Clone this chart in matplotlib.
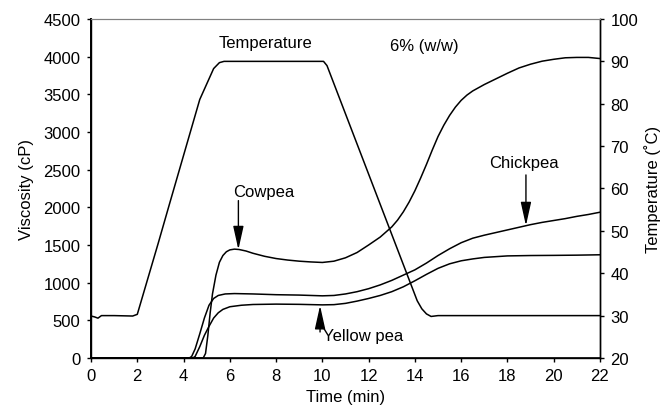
import matplotlib
matplotlib.use("Agg")
import matplotlib.pyplot as plt
import numpy as np

plt.rcParams['font.family'] = ['Liberation Sans', 'DejaVu Sans']
plt.rcParams['font.size'] = 12

# Time (min) / Temperature (deg C)
temp_t = [0, 0.15, 0.3, 0.45, 1.0, 1.8, 2.0, 2.9, 3.4, 4.7, 5.3, 5.55, 5.75,
          10.05, 10.2, 14.1, 14.3, 14.5, 14.7, 15.0, 22.0]
temp_c = [29.9, 29.7, 29.4, 30.0, 30.0, 29.9, 30.3, 47.0, 56.5, 81.0, 88.3, 89.7, 90.0,
          90.0, 89.0, 33.5, 31.6, 30.4, 29.8, 30.0, 30.0]

# Viscosity (cP)
cow_t = [0, 4.85, 4.95, 5.05, 5.15, 5.25, 5.4, 5.55, 5.7, 5.85, 6.0, 6.2, 6.4, 6.7,
         7.0, 7.5, 8.0, 8.5, 9.0, 9.5, 10.0, 10.5, 11.0, 11.5, 12.0, 12.5, 13.0, 13.25,
         13.5, 13.75, 14.0, 14.25, 14.5, 14.75, 15.0, 15.25, 15.5, 15.75, 16.0, 16.25,
         16.5, 17.0, 17.5, 18.0, 18.5, 19.0, 19.5, 20.0, 20.5, 21.0, 21.5, 22.0]
cow_v = [0, 0, 60, 300, 600, 850, 1100, 1270, 1360, 1410, 1435, 1445, 1440, 1420,
         1390, 1350, 1320, 1300, 1285, 1275, 1268, 1285, 1330, 1400, 1500, 1605, 1740, 1830,
         1940, 2070, 2220, 2390, 2570, 2760, 2940, 3090, 3220, 3330, 3420, 3490,
         3545, 3630, 3705, 3780, 3850, 3900, 3940, 3965, 3985, 3990, 3990, 3975]

chick_t = [0, 4.25, 4.35, 4.5, 4.7, 4.9, 5.1, 5.3, 5.5, 5.8, 6.2, 7, 8, 9, 10, 10.5,
           11, 11.5, 12, 12.5, 13, 13.5, 14, 14.5, 15, 15.5, 16, 16.5, 17, 17.5, 18,
           18.5, 19, 19.5, 20, 20.5, 21, 21.5, 22]
chick_v = [0, 0, 20, 120, 320, 530, 700, 790, 830, 850, 855, 850, 840, 835, 825, 830,
           850, 880, 920, 970, 1030, 1100, 1170, 1260, 1360, 1450, 1530, 1590, 1630, 1665, 1700,
           1735, 1770, 1800, 1825, 1850, 1880, 1905, 1935]

yp_t = [0, 4.4, 4.5, 4.7, 4.9, 5.1, 5.3, 5.5, 5.7, 6.0, 6.5, 7, 8, 9, 10, 10.5, 11,
        11.5, 12, 12.5, 13, 13.5, 14, 14.5, 15, 15.5, 16, 16.5, 17, 17.5, 18, 19, 20, 21, 22]
yp_v = [0, 0, 20, 150, 300, 420, 530, 600, 645, 680, 700, 710, 715, 712, 705, 708, 725,
        755, 790, 830, 880, 945, 1025, 1110, 1190, 1250, 1290, 1315, 1335, 1345, 1355, 1360, 1362, 1365, 1370]

x_ticks = list(range(0, 23, 2))
y_ticks = list(range(0, 4501, 500))
t_ticks = list(range(20, 101, 10))

fig = plt.figure(figsize=(6.62, 4.14), dpi=100)
ax = fig.add_axes([0.1375, 0.1329, 0.7688, 0.8188])
ax2 = ax.twinx()

lw = 1.1
ax.plot(cow_t, cow_v, color='black', lw=lw)
ax.plot(chick_t, chick_v, color='black', lw=lw)
ax.plot(yp_t, yp_v, color='black', lw=lw)
ax2.plot(temp_t, temp_c, color='black', lw=lw)

ax.set_xlim(0, 22)
ax.set_ylim(0, 4500)
ax2.set_ylim(20, 100)
ax.set_xticks(x_ticks)
ax.set_yticks(y_ticks)
ax2.set_yticks(t_ticks)

ax.set_xlabel('Time (min)', labelpad=4)
ax.set_ylabel('Viscosity (cP)', labelpad=7)
ax2.set_ylabel('Temperature (\u02daC)', labelpad=4)

for a in (ax, ax2):
    a.tick_params(direction='out', length=3, width=1, pad=4.5, labelsize=12)
    for s in a.spines.values():
        s.set_linewidth(1.0)
    a.spines['top'].set_color('#808080')
    a.spines['top'].set_linewidth(0.8)
ax.spines['left'].set_linewidth(1.4)
ax.spines['bottom'].set_linewidth(1.2)

arrow = dict(arrowstyle='-|>,head_length=0.72,head_width=0.16', color='black', lw=1,
             mutation_scale=20, shrinkA=0, shrinkB=0)
ax.annotate('', xy=(6.37, 1438), xytext=(6.37, 2089), arrowprops=arrow)
ax.text(6.15, 2215, 'Cowpea', ha='left', va='center')
ax.annotate('', xy=(18.8, 1757), xytext=(18.8, 2430), arrowprops=arrow)
ax.text(18.7, 2600, 'Chickpea', ha='center', va='center')
ax.annotate('', xy=(9.9, 695), xytext=(9.9, 345), arrowprops=arrow)
ax.text(10.04, 296, 'Yellow pea', ha='left', va='center')
ax.text(7.55, 4192, 'Temperature', ha='center', va='center')
ax.text(14.4, 4147, '6% (w/w)', ha='center', va='center')

fig.savefig('out.png', dpi=100)
